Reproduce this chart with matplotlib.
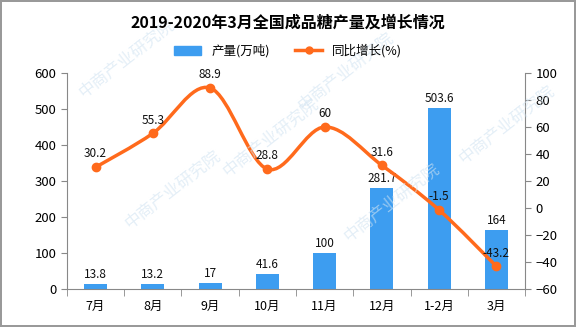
import numpy as np
import matplotlib
matplotlib.use("Agg")
import matplotlib.pyplot as plt
from matplotlib.path import Path
from matplotlib.patches import PathPatch, Patch
from matplotlib.lines import Line2D

plt.rcParams['font.family'] = ['Noto Sans CJK SC', 'DejaVu Sans']

# data
months = ['7月', '8月', '9月', '10月', '11月', '12月', '1-2月', '3月']
output = [13.8, 13.2, 17, 41.6, 100, 281.7, 503.6, 164]      # 产量(万吨)
growth = [30.2, 55.3, 88.9, 28.8, 60, 31.6, -1.5, -43.2]     # 同比增长(%)
output_labels = ['13.8', '13.2', '17', '41.6', '100', '281.7', '503.6', '164']
growth_labels = ['30.2', '55.3', '88.9', '28.8', '60', '31.6', '-1.5', '-43.2']

bar_color = '#3d9df0'
line_color = '#ff6a1c'

fig = plt.figure(figsize=(5.76, 3.27), dpi=100)
fig.patch.set_edgecolor('#999999')
fig.patch.set_linewidth(1.5)
ax = fig.add_axes([0.1163, 0.1162, 0.7952, 0.6606])
ax2 = ax.twinx()

# faint watermark
for wx, wy in [(0.22, 0.82), (0.6, 0.78), (0.3, 0.42), (0.68, 0.38), (0.47, 0.58), (0.88, 0.62)]:
    fig.text(wx, wy, '中商产业研究院', color='#d2e4f2', alpha=0.6, fontsize=12, rotation=38,
             ha='center', va='center', zorder=0)

x = np.arange(len(months))
ax.bar(x, output, width=0.4, color=bar_color, zorder=2)
for xi, v, lab in zip(x, output, output_labels):
    ax.text(xi, v + 8, lab, ha='center', va='bottom', fontsize=8.5, color='#111111')

ax.set_xlim(-0.5, len(months) - 0.5)
ax.set_ylim(0, 600)
ax.set_yticks(range(0, 601, 100))
ax.set_xticks(x)
ax.set_xticklabels(months, fontsize=9)
ax.set_xticks(np.arange(-0.5, len(months), 1), minor=True)
ax.tick_params(axis='x', which='major', length=0, pad=8)
ax.tick_params(axis='x', which='minor', length=5, color='#888888')
ax.tick_params(axis='y', labelsize=9.5, length=4, color='#888888')

ax2.set_ylim(-60, 100)
ax2.set_yticks(range(-60, 101, 20))
ax2.tick_params(axis='y', labelsize=9.5, length=4, color='#888888')

for a in (ax, ax2):
    a.spines['top'].set_visible(False)
    for s in ('left', 'right', 'bottom'):
        a.spines[s].set_color('#888888')
ax.spines['right'].set_visible(False)
ax2.spines['left'].set_visible(False)
ax2.spines['bottom'].set_visible(False)

# smooth curve through the points (Catmull-Rom as cubic Bezier segments)
gy = np.array(growth, dtype=float)
gx = x.astype(float)
verts = [(gx[0], gy[0])]
codes = [Path.MOVETO]
t = 0.5
for i in range(len(gx) - 1):
    p0 = (gx[i - 1], gy[i - 1]) if i > 0 else (gx[i], gy[i])
    p1 = (gx[i], gy[i])
    p2 = (gx[i + 1], gy[i + 1])
    p3 = (gx[i + 2], gy[i + 2]) if i + 2 < len(gx) else p2
    c1 = (p1[0] + (p2[0] - p0[0]) * t / 3, p1[1] + (p2[1] - p0[1]) * t / 3)
    c2 = (p2[0] - (p3[0] - p1[0]) * t / 3, p2[1] - (p3[1] - p1[1]) * t / 3)
    verts += [c1, c2, p2]
    codes += [Path.CURVE4] * 3
ax2.add_patch(PathPatch(Path(verts, codes), facecolor='none', edgecolor=line_color,
                        lw=2.5, zorder=3))
ax2.plot(gx, gy, 'o', color=line_color, markersize=6, zorder=4)
for xi, v, lab in zip(gx, gy, growth_labels):
    ax2.text(xi, v + 5, lab, ha='center', va='bottom', fontsize=8.5, color='#111111', zorder=5)

fig.text(0.5, 0.93, '2019-2020年3月全国成品糖产量及增长情况', ha='center', va='center',
         fontsize=11.5, fontweight='bold')

# legend
handles = [Patch(color=bar_color, label='产量(万吨)'),
           Line2D([0], [0], color=line_color, lw=2.5, marker='o', markersize=5, label='同比增长(%)')]
fig.legend(handles=handles, loc='center', bbox_to_anchor=(0.5, 0.845), ncol=2, frameon=False,
           fontsize=9, handlelength=2.2, columnspacing=2)

fig.savefig('out.png', dpi=100)
